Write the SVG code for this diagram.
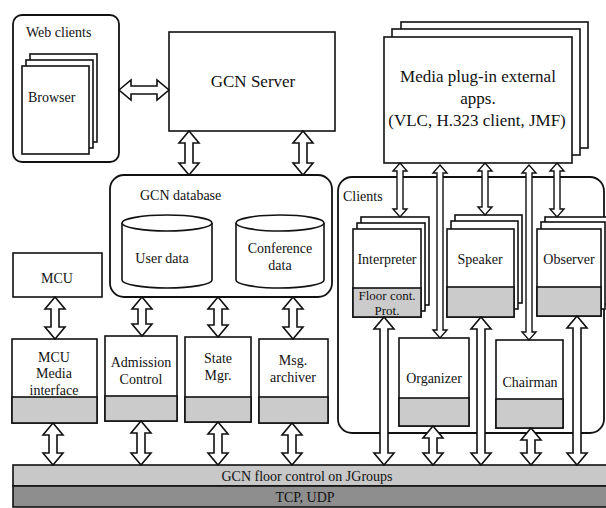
<svg xmlns="http://www.w3.org/2000/svg" width="606" height="508" viewBox="0 0 606 508" font-family="'Liberation Serif', 'DejaVu Serif', serif">
<style>
.box{fill:#fff;stroke:#111;stroke-width:1.6}
.cont{fill:#fff;stroke:#111;stroke-width:1.8}
.band{fill:#cbcbcb;stroke:#111;stroke-width:1.6}
.arr{fill:#fff;stroke:#111;stroke-width:1.6;stroke-linejoin:miter}
.thin{fill:#fff;stroke:#111;stroke-width:1.4}
text{font-family:'Liberation Serif','DejaVu Serif',serif;fill:#111;font-size:14px}
.c{text-anchor:middle}
</style>
<rect width="606" height="508" fill="#fff"/>

<g id="web-clients">
<rect class="cont" x="13" y="15" width="106" height="147" rx="9"/>
<text x="26" y="37">Web clients</text>
<rect class="box" x="30" y="54" width="67" height="88"/>
<rect class="box" x="26" y="60" width="67" height="88"/>
<rect class="box" x="22" y="66" width="67" height="88"/>
<text x="28" y="102">Browser</text>
</g>

<g id="gcn-server">
<rect class="box" x="169" y="32" width="166" height="99"/>
<text class="c" x="253" y="87" style="font-size:17px">GCN Server</text>
</g>

<g id="media-plugin">
<rect class="box" x="401" y="22" width="187" height="126"/>
<rect class="box" x="392" y="29" width="188" height="126"/>
<rect class="box" x="384" y="37" width="188" height="126"/>
<text class="c" x="478" y="82" style="font-size:17px">Media plug-in external</text>
<text class="c" x="478" y="104" style="font-size:17px">apps.</text>
<text class="c" x="477" y="126" style="font-size:17px">(VLC, H.323 client, JMF)</text>
</g>

<g id="gcn-database">
<rect class="cont" x="110" y="175" width="222" height="122" rx="14"/>
<text x="140" y="200">GCN database</text>
<g id="user-data">
<path class="box" d="M122,223 V280 A45,8 0 0 0 212,280 V223"/>
<ellipse class="box" cx="167" cy="223" rx="45" ry="8"/>
<text class="c" x="162" y="263">User data</text>
</g>
<g id="conference-data">
<path class="box" d="M236,223 V280 A44,8 0 0 0 324,280 V223"/>
<ellipse class="box" cx="280" cy="223" rx="44" ry="8"/>
<text class="c" x="280" y="253">Conference</text>
<text class="c" x="280" y="270">data</text>
</g>
</g>

<g id="mcu">
<rect class="box" x="13" y="253" width="89" height="44"/>
<text class="c" x="57" y="283">MCU</text>
</g>

<g id="mcu-media-interface">
<rect class="box" x="12" y="339" width="85" height="84"/>
<rect class="band" x="12" y="397" width="85" height="26"/>
<text class="c" x="54" y="362">MCU</text>
<text class="c" x="54" y="378">Media</text>
<text class="c" x="54" y="395">interface</text>
</g>

<g id="admission-control">
<rect class="box" x="105" y="336" width="72" height="85"/>
<rect class="band" x="105" y="396" width="72" height="25"/>
<text class="c" x="141" y="367">Admission</text>
<text class="c" x="141" y="384">Control</text>
</g>

<g id="state-mgr">
<rect class="box" x="185" y="337" width="66" height="85"/>
<rect class="band" x="185" y="397" width="66" height="25"/>
<text class="c" x="218" y="363">State</text>
<text class="c" x="218" y="380">Mgr.</text>
</g>

<g id="msg-archiver">
<rect class="box" x="259" y="339" width="69" height="84"/>
<rect class="band" x="259" y="397" width="69" height="26"/>
<text class="c" x="293" y="365">Msg.</text>
<text class="c" x="293" y="382">archiver</text>
</g>

<g id="clients">
<rect class="cont" x="338" y="177" width="266" height="256" rx="14"/>
<text x="343" y="201">Clients</text>
</g>

<g id="interpreter">
<rect class="box" x="361" y="217" width="68" height="88"/>
<rect class="box" x="357" y="223" width="68" height="88"/>
<rect class="box" x="353" y="229" width="68" height="88"/>
<rect class="band" x="353" y="288" width="68" height="29"/>
<text class="c" x="387" y="264">Interpreter</text>
<text class="c" x="387" y="300" style="font-size:13px">Floor cont.</text>
<text class="c" x="387" y="315" style="font-size:13px">Prot.</text>
</g>

<g id="speaker">
<rect class="box" x="455" y="215" width="67" height="88"/>
<rect class="box" x="451" y="221" width="67" height="88"/>
<rect class="box" x="447" y="229" width="67" height="88"/>
<rect class="band" x="447" y="287" width="67" height="30"/>
<text class="c" x="480" y="264">Speaker</text>
</g>

<g id="observer">
<rect class="box" x="545" y="217" width="64" height="87"/>
<rect class="box" x="541" y="222" width="64" height="87"/>
<rect class="box" x="537" y="229" width="64" height="87"/>
<rect class="band" x="537" y="287" width="64" height="29"/>
<text class="c" x="569" y="264">Observer</text>
</g>

<g id="organizer">
<rect class="box" x="399" y="338" width="70" height="88"/>
<rect class="band" x="399" y="398" width="70" height="28"/>
<text class="c" x="434" y="383">Organizer</text>
</g>

<g id="chairman">
<rect class="box" x="496" y="340" width="67" height="88"/>
<rect class="band" x="496" y="399" width="67" height="29"/>
<text class="c" x="530" y="387">Chairman</text>
</g>

<g id="gcn-floor-control">
<rect x="13" y="465" width="596" height="21" fill="#c8c8c8" stroke="#111" stroke-width="1.6"/>
<text class="c" x="307" y="481">GCN floor control on JGroups</text>
</g>

<g id="tcp-udp">
<rect x="13" y="486" width="596" height="21" fill="#8e8e8e" stroke="#111" stroke-width="1.6"/>
<text class="c" x="305" y="502">TCP, UDP</text>
</g>

<g id="connectors">
<polygon class="arr" points="119,90 131,80 131,86 157,86 157,80 169,90 157,100 157,94 131,94 131,100"/>
<polygon class="arr" points="189,131 199,143 193,143 193,163 199,163 189,175 179,163 185,163 185,143 179,143"/>
<polygon class="arr" points="303,131 313,143 307,143 307,163 313,163 303,175 293,163 299,163 299,143 293,143"/>
<polygon class="arr" points="55,297 65,309 59,309 59,327 65,327 55,339 45,327 51,327 51,309 45,309"/>
<polygon class="arr" points="142,297 152,309 146,309 146,324 152,324 142,336 132,324 138,324 138,309 132,309"/>
<polygon class="arr" points="218,297 228,309 222,309 222,325 228,325 218,337 208,325 214,325 214,309 208,309"/>
<polygon class="arr" points="293,297 303,309 297,309 297,327 303,327 293,339 283,327 289,327 289,309 283,309"/>
<polygon class="arr" points="53,423 63,435 57,435 57,453 63,453 53,465 43,453 49,453 49,435 43,435"/>
<polygon class="arr" points="141,421 151,433 145,433 145,453 151,453 141,465 131,453 137,453 137,433 131,433"/>
<polygon class="arr" points="218,422 228,434 222,434 222,453 228,453 218,465 208,453 214,453 214,434 208,434"/>
<polygon class="arr" points="292,423 302,435 296,435 296,453 302,453 292,465 282,453 288,453 288,435 282,435"/>
<polygon class="arr" points="384,317 394,329 388,329 388,453 394,453 384,465 374,453 380,453 380,329 374,329"/>
<polygon class="arr" points="433,426 443,438 437,438 437,453 443,453 433,465 423,453 429,453 429,438 423,438"/>
<polygon class="arr" points="481,317 491,329 485,329 485,453 491,453 481,465 471,453 477,453 477,329 471,329"/>
<polygon class="arr" points="531,428 541,440 535,440 535,453 541,453 531,465 521,453 527,453 527,440 521,440"/>
<polygon class="arr" points="577,316 587,328 581,328 581,453 587,453 577,465 567,453 573,453 573,328 567,328"/>
<polygon class="thin" points="400,163 407,171 403,171 403,209 407,209 400,217 393,209 397,209 397,171 393,171"/>
<polygon class="thin" points="485,163 492,171 488,171 488,207 492,207 485,215 478,207 482,207 482,171 478,171"/>
<polygon class="thin" points="557,163 564,171 560,171 560,209 564,209 557,217 550,209 554,209 554,171 550,171"/>
<polygon class="thin" points="440,165 447,173 443,173 443,330 447,330 440,338 433,330 437,330 437,173 433,173"/>
<polygon class="thin" points="529,165 536,173 532,173 532,332 536,332 529,340 522,332 526,332 526,173 522,173"/>
</g>
</svg>
